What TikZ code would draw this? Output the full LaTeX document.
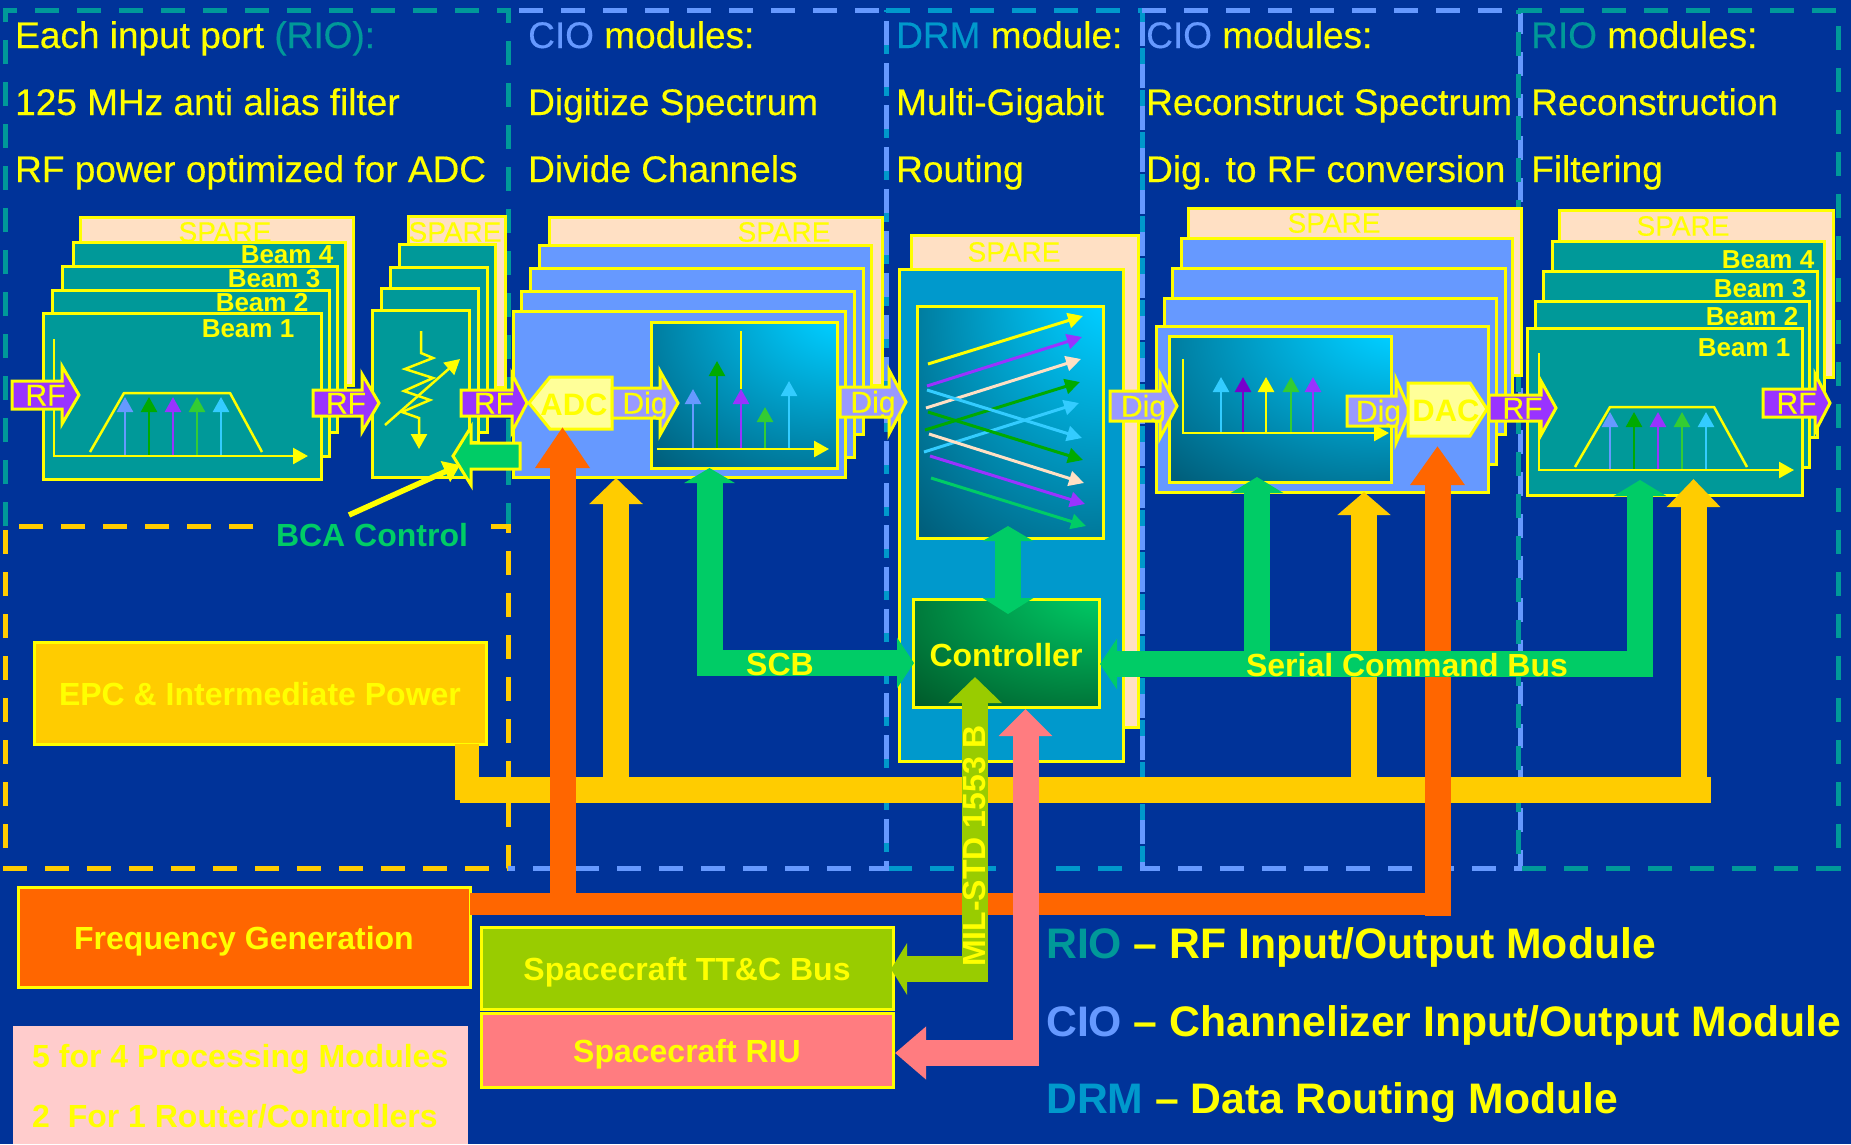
\documentclass[tikz,border=0pt]{standalone}
\usepackage{fontspec}
\setmainfont{Liberation Sans}
\newfontface\softbold[FakeBold=0.35]{Liberation Sans}
\usetikzlibrary{arrows.meta}

\definecolor{slide}{HTML}{003399}
\definecolor{rio}{HTML}{009999}
\definecolor{cio}{HTML}{6699FF}
\definecolor{drm}{HTML}{0099CC}
\definecolor{spare}{HTML}{FFE0C4}
\definecolor{hot}{HTML}{FFFF00}
\definecolor{sigpurple}{HTML}{9933FF}
\definecolor{sigblue}{HTML}{33CCFF}
\definecolor{siggreen}{HTML}{00AA00}
\definecolor{siglime}{HTML}{33CC33}
\definecolor{sigviolet}{HTML}{7700CC}
\definecolor{digfill}{HTML}{9999FF}
\definecolor{convfill}{HTML}{FFFF99}
\definecolor{busyellow}{HTML}{FFCC00}
\definecolor{busorange}{HTML}{FF6600}
\definecolor{busgreen}{HTML}{00CC66}
\definecolor{tcgreen}{HTML}{99CC00}
\definecolor{riupink}{HTML}{FF7C80}
\definecolor{notepink}{HTML}{FFCCCC}
\definecolor{glowdark}{HTML}{005F7C}
\definecolor{glowbright}{HTML}{00CCFF}
\definecolor{ctldark}{HTML}{005C2C}

\pgfdeclareradialshading{specglow}{\pgfpoint{32bp}{36bp}}{color(0bp)=(glowbright); color(10bp)=(glowbright); color(58bp)=(glowdark); color(120bp)=(glowdark)}
\pgfdeclareradialshading{ctlglow}{\pgfpoint{32bp}{36bp}}{color(0bp)=(busgreen); color(8bp)=(busgreen); color(58bp)=(ctldark); color(120bp)=(ctldark)}

\tikzset{
  box/.style={draw=hot, line width=3pt, inner sep=0pt, outer sep=0pt},
  riobox/.style={box, fill=rio},
  ciobox/.style={box, fill=cio},
  sparebox/.style={box, fill=spare},
  glowbox/.style={box, shading=specglow},
  regionline/.style={line width=5pt, dash pattern=on 24pt off 18pt},
  headtext/.style={anchor=base west, inner sep=0pt, text=hot, font=\softbold\fontsize{37}{40}\selectfont},
  sparetext/.style={inner sep=0pt, text=hot, font=\softbold\fontsize{28}{30}\selectfont},
  beamtext/.style={inner sep=0pt, text=hot, font=\fontsize{26}{30}\selectfont\bfseries},
  labeltext/.style={inner sep=0pt, text=hot, text height=25pt, text depth=0pt, font=\fontsize{32}{36}\selectfont\bfseries},
  legendtext/.style={anchor=base west, inner sep=0pt, text=hot, font=\fontsize{42.7}{50}\selectfont\bfseries},
  rfarrow/.style={draw=hot, fill=sigpurple, line width=3pt, line join=miter},
  digarrow/.style={draw=hot, fill=digfill, line width=3pt, line join=miter},
  cmdarrow/.style={draw=hot, fill=busgreen, line width=3pt, line join=miter},
  arrowtext/.style={anchor=base, inner sep=0pt, text=hot, font=\softbold\fontsize{30}{34}\selectfont},
  converter/.style={draw=hot, fill=convfill, line width=3pt, line join=miter},
  convtext/.style={inner sep=0pt, text=hot, font=\fontsize{31}{36}\selectfont\bfseries},
  thin/.style={draw=hot, line width=2.5pt},
  tick/.style={line width=2.5pt, -{Triangle[length=15pt,width=16pt]}},
  cross/.style={line width=3pt, -{Triangle[length=15pt,width=15pt]}},
  busline/.style={line width=26pt, line join=miter},
  busarrow/.style={line width=26pt, -{Triangle[length=#1,width=52pt]}}
}

\newcommand{\panel}[7]{\node (#1) [#2, anchor=north west, minimum width={(#5-#3)*1pt}, minimum height={(#6-#4)*1pt}] at (#3,#4) {#7};}
\newcommand{\flowarrow}[9]{%
  \filldraw[#2] (#3,{#6-#7}) -- (#4,{#6-#7}) -- (#4,{#6-#8}) -- (#5,#6) -- (#4,{#6+#8}) -- (#4,{#6+#7}) -- (#3,{#6+#7}) -- cycle;
  \node (#1) [arrowtext] at ({(#3+#5)/2},{#6+10.5}) {#9};}

\begin{document}
\begin{tikzpicture}[x=1pt, y=-1pt]
\fill[slide] (0,0) rectangle (1851,1144);
\useasboundingbox (0,0) rectangle (1851,1144);

\draw[regionline, draw=rio] (5,526) -- (5,10) -- (508,10) -- (508,526);
\draw[regionline, draw=busyellow] (253,526) -- (5,526) -- (5,868) -- (508,868) -- (508,526) -- (488,526);
\draw[regionline, draw=drm] (886,10) -- (1142,10) -- (1142,868) -- (886,868) -- cycle;
\draw[regionline, draw=cio] (519,10) -- (886,10) -- (886,868) -- (508,868);
\draw[regionline, draw=cio] (1142,10) -- (1520,10) -- (1520,868) -- (1142,868) -- cycle;
\draw[regionline, draw=rio] (1518,10) -- (1838,10) -- (1838,868) -- (1518,868) -- cycle;

\node (riohead) [headtext] at (15,48) {Each input port \textcolor{rio}{(RIO):}};
\node (aliashead) [headtext] at (15,115) {125 MHz anti alias filter};
\node (powerhead) [headtext] at (15,182) {RF power optimized for ADC};
\node (ciohead) [headtext] at (528,48) {\textcolor{cio}{CIO} modules:};
\node (dighead) [headtext] at (528,115) {Digitize Spectrum};
\node (divhead) [headtext] at (528,182) {Divide Channels};
\node (drmhead) [headtext] at (896,48) {\textcolor{drm}{DRM} module:};
\node (gighead) [headtext] at (896,115) {Multi-Gigabit};
\node (routehead) [headtext] at (896,182) {Routing};
\node (ciohead2) [headtext] at (1146,48) {\textcolor{cio}{CIO} modules:};
\node (rechead) [headtext] at (1146,115) {Reconstruct Spectrum};
\node (dachead) [headtext] at (1146,182) {Dig. to RF conversion};
\node (riohead2) [headtext] at (1531,48) {\textcolor{rio}{RIO} modules:};
\node (filthead) [headtext] at (1531,115) {Reconstruction};
\node (filthead2) [headtext] at (1531,182) {Filtering};

\panel{inspare}{sparebox}{80.5}{217}{353}{385}{}
\panel{inbeamd}{riobox}{73}{242}{345}{410}{}
\panel{inbeamc}{riobox}{62.5}{266}{337}{432}{}
\panel{inbeamb}{riobox}{52}{290}{329}{456}{}
\panel{inbeama}{riobox}{43}{313}{321}{479}{}
\node (insparetext) [sparetext] at (225,232) {SPARE};
\node (inbeamdtext) [beamtext] at (287,255) {Beam 4};
\node (inbeamctext) [beamtext] at (274,279) {Beam 3};
\node (inbeambtext) [beamtext] at (262,303) {Beam 2};
\node (inbeamatext) [beamtext] at (248,329) {Beam 1};
\draw[thin, line join=round] (90,452) -- (124,393) -- (230,393) -- (262,452);
\draw[tick, draw=cio] (125,456) -- (125,397);
\draw[tick, draw=siggreen] (149,456) -- (149,397);
\draw[tick, draw=sigpurple] (173,456) -- (173,397);
\draw[tick, draw=siglime] (197,456) -- (197,397);
\draw[tick, draw=sigblue] (221,456) -- (221,397);
\draw[thin, -{Triangle[length=15pt,width=16pt]}] (54,339) -- (54,456) -- (308,456);

\panel{bcaspare}{sparebox}{408}{216}{505}{387}{}
\panel{bcad}{riobox}{399}{244}{495}{400}{}
\panel{bcac}{riobox}{390}{267}{487}{432}{}
\panel{bcab}{riobox}{381}{288}{478}{442}{}
\panel{bcaa}{riobox}{372}{310}{469}{477}{}
\node (bcasparetext) [sparetext] at (455,232) {SPARE};
\draw[thin, line join=miter, -{Triangle[length=15pt,width=16pt]}] (421,331) -- (421,353) -- (433,358) -- (405,369) -- (433,378) -- (404,391) -- (430,400) -- (402,412) -- (419,418) -- (419,449);
\draw[thin, -{Triangle[length=15pt,width=16pt]}] (385,425) -- (460,359);

\panel{ciospare}{sparebox}{549}{217}{882}{385}{}
\panel{ciod}{ciobox}{539}{245}{871}{410}{}
\panel{cioc}{ciobox}{530}{268}{863}{434}{}
\panel{ciob}{ciobox}{521}{291}{854}{457}{}
\panel{cioa}{ciobox}{513}{311}{845}{477}{}
\node (ciosparetext) [sparetext] at (784,232) {SPARE};
\panel{adcspec}{glowbox}{651}{322}{837}{468}{}
\draw[thin] (741,331) -- (741,389);
\draw[tick, draw=cio] (693,449) -- (693,389);
\draw[tick, draw=siggreen] (717,449) -- (717,361);
\draw[tick, draw=sigpurple] (741,449) -- (741,389);
\draw[tick, draw=siglime] (765,449) -- (765,407);
\draw[tick, draw=sigblue] (789,449) -- (789,381);
\draw[thin, -{Triangle[length=15pt,width=16pt]}] (657,449) -- (829,449);

\panel{drmspare}{sparebox}{911}{235}{1138}{727}{}
\panel{drmbox}{box, fill=drm}{899}{269}{1123}{761}{}
\node (drmsparetext) [sparetext] at (1014,252) {SPARE};
\panel{router}{glowbox}{917.5}{306}{1103}{538}{}
\draw[cross, draw=hot] (928,364) -- (1083,316);
\draw[cross, draw=sigpurple] (927,386) -- (1082,337);
\draw[cross, draw=spare] (926,408) -- (1081,359);
\draw[cross, draw=siggreen] (925,430) -- (1080,382);
\draw[cross, draw=sigblue] (924,452) -- (1079,403);
\draw[cross, draw=sigblue] (927,390) -- (1082,438);
\draw[cross, draw=siggreen] (928,412) -- (1083,460);
\draw[cross, draw=spare] (929,434) -- (1084,483);
\draw[cross, draw=sigpurple] (930,456) -- (1085,504);
\draw[cross, draw=busgreen] (931,478) -- (1086,526);
\panel{controller}{box, shading=ctlglow, labeltext, text height=27pt}{913}{599}{1099}{707}{Controller}

\panel{dacspare}{sparebox}{1188}{208}{1521}{375}{}
\panel{dacd}{ciobox}{1181}{238}{1512}{405}{}
\panel{dacc}{ciobox}{1172}{268}{1505}{434}{}
\panel{dacb}{ciobox}{1164}{298}{1496}{464}{}
\panel{daca}{ciobox}{1156}{326}{1488}{492}{}
\node (dacsparetext) [sparetext] at (1334,223) {SPARE};
\panel{dacspec}{glowbox}{1169}{336}{1391}{482}{}
\draw[tick, draw=sigblue] (1221,433) -- (1221,377);
\draw[tick, draw=sigviolet] (1243,433) -- (1243,377);
\draw[tick, draw=hot] (1266,433) -- (1266,377);
\draw[tick, draw=siglime] (1291,433) -- (1291,377);
\draw[tick, draw=sigpurple] (1313,433) -- (1313,377);
\draw[thin, -{Triangle[length=15pt,width=16pt]}] (1183,359) -- (1183,433) -- (1389,433);

\panel{outspare}{sparebox}{1559}{210}{1833}{377}{}
\panel{outbeamd}{riobox}{1552}{241}{1824}{410}{}
\panel{outbeamc}{riobox}{1543}{271}{1817}{437}{}
\panel{outbeamb}{riobox}{1535}{301}{1809}{467}{}
\panel{outbeama}{riobox}{1527}{328}{1802}{495}{}
\node (outsparetext) [sparetext] at (1683,226) {SPARE};
\node (outbeamdtext) [beamtext] at (1768,260) {Beam 4};
\node (outbeamctext) [beamtext] at (1760,289) {Beam 3};
\node (outbeambtext) [beamtext] at (1752,317) {Beam 2};
\node (outbeamatext) [beamtext] at (1744,348) {Beam 1};
\draw[thin, line join=round] (1575,467) -- (1610,407) -- (1714,407) -- (1747,467);
\draw[tick, draw=cio] (1610,470) -- (1610,412);
\draw[tick, draw=siggreen] (1634,470) -- (1634,412);
\draw[tick, draw=sigpurple] (1658,470) -- (1658,412);
\draw[tick, draw=siglime] (1682,470) -- (1682,412);
\draw[tick, draw=sigblue] (1706,470) -- (1706,412);
\draw[thin, -{Triangle[length=15pt,width=16pt]}] (1539,353) -- (1539,470) -- (1794,470);

\flowarrow{rfin}{rfarrow}{12}{62}{79}{395}{14}{29}{RF}
\flowarrow{rfmid}{rfarrow}{313}{362}{379}{403}{13}{29}{RF}
\flowarrow{bcain}{cmdarrow}{520}{471}{453}{456}{13}{29}{}
\filldraw[converter] (529,403) -- (550,377) -- (612,377) -- (612,429) -- (550,429) -- cycle;
\node (adc) [convtext] at (574,405) {ADC};
\flowarrow{rfadc}{rfarrow}{461}{512}{527}{403}{13}{29}{RF}
\flowarrow{digadc}{digarrow}{612}{660}{678}{403}{15}{32}{Dig}
\flowarrow{digout}{digarrow}{840}{889}{906}{402}{15}{32}{Dig}
\flowarrow{digin}{digarrow}{1110}{1160}{1177}{406}{15}{32}{Dig}
\flowarrow{digdac}{digarrow}{1347}{1396}{1410}{411}{15}{32}{Dig}
\filldraw[converter] (1408,383) -- (1470,383) -- (1487,409) -- (1470,436) -- (1408,436) -- cycle;
\node (dac) [convtext] at (1446,411) {DAC};
\flowarrow{rfdac}{rfarrow}{1489}{1541}{1556}{408}{13}{27}{RF}
\flowarrow{rfout}{rfarrow}{1763}{1815}{1830}{403}{14}{29}{RF}

\coordinate (bcafrom) at (349,515);
\coordinate (bcato) at (460,465);
\draw[line width=5.5pt, draw=hot, -{Triangle[length=16pt,width=22pt]}] (bcafrom) -- (bcato);
\node (bcatext) [labeltext, text=busgreen] at (372,534) {BCA Control};

\panel{epc}{box, fill=busyellow, labeltext}{34}{642}{486}{744}{EPC \& Intermediate Power}
\panel{freq}{box, fill=busorange, labeltext}{18}{887}{470}{987}{Frequency Generation}
\panel{ttc}{box, fill=tcgreen, labeltext}{481}{927}{893}{1009}{Spacecraft TT\&C Bus}
\panel{riu}{box, fill=riupink, labeltext}{481}{1013}{893}{1087}{Spacecraft RIU}
\fill[notepink] (13,1026) rectangle (468,1144);
\node (notea) [labeltext, anchor=west] at (32,1055) {5 for 4 Processing Modules};
\node (noteb) [labeltext, anchor=west] at (32,1115) {2\ \ For 1 Router/Controllers};

\coordinate (epcdrop) at (467,744);
\coordinate (pwrstart) at (460,790);
\coordinate (pwrend) at (1711,790);
\coordinate (pwrtap) at (616,790);
\coordinate (pwrtapb) at (1364,790);
\coordinate (pwrtapc) at (1693.5,790);
\coordinate (pwradc) at (616,478);
\coordinate (pwrdac) at (1364,492);
\coordinate (pwrrio) at (1693.5,479);
\draw[line width=24pt, draw=busyellow] (epcdrop) -- (467,800);
\draw[busline, draw=busyellow] (pwrstart) -- (pwrend);
\draw[busarrow=26pt, draw=busyellow] (pwrtap) -- (pwradc);
\draw[busarrow=23pt, draw=busyellow] (pwrtapb) -- (pwrdac);
\draw[busarrow=28pt, draw=busyellow] (pwrtapc) -- (pwrrio);

\coordinate (fgtap) at (562.5,904);
\coordinate (fgadc) at (562.5,427);
\coordinate (fgend) at (1437.5,916);
\coordinate (fgdac) at (1437.5,446);
\draw[line width=22pt, draw=busorange] (freq.east |- fgtap) -- (fgend |- fgtap);
\draw[busarrow=41pt, draw=busorange] (fgtap) -- (fgadc);
\draw[busarrow=39pt, draw=busorange] (fgend) -- (fgdac);

\coordinate (scbadc) at (709.5,468);
\coordinate (ctlwest) at (914,663);
\coordinate (ctleast) at (1100,664);
\coordinate (cmdend) at (1653,664);
\coordinate (cmdtapa) at (1257,664);
\coordinate (cmdtapb) at (1640,664);
\coordinate (cmddac) at (1257,477);
\coordinate (cmdrio) at (1640,480);
\draw[busline, draw=busgreen, {Triangle[length=15pt,width=50pt]}-{Triangle[length=17pt,width=50pt]}] (scbadc) -- (709.5,663) -- (ctlwest);
\draw[busline, draw=busgreen, -{Triangle[length=17pt,width=50pt]}] (cmdend) -- (ctleast);
\draw[busarrow=16pt, draw=busgreen] (cmdtapa) -- (cmddac);
\draw[busarrow=16pt, draw=busgreen] (cmdtapb) -- (cmdrio);
\coordinate (ctlup) at (1008,526);
\coordinate (ctldown) at (1008,614);
\draw[line width=26pt, draw=busgreen, {Triangle[length=15pt,width=50pt]}-{Triangle[length=16pt,width=50pt]}] (ctlup) -- (ctldown);
\node (scbtext) [labeltext] at (780,663) {SCB};
\node (cmdtext) [labeltext] at (1407,664) {Serial Command Bus};

\coordinate (ttctip) at (891,969);
\coordinate (miltip) at (975,677);
\draw[busline, draw=tcgreen, {Triangle[length=16pt,width=51pt]}-{Triangle[length=26pt,width=52pt]}] (ttctip) -- (975,969) -- (miltip);
\node (miltext) [labeltext, rotate=90] at (973,846) {MIL-STD 1553 B};

\coordinate (riutip) at (895,1053);
\coordinate (rioup) at (1025.5,709);
\draw[busline, draw=riupink, {Triangle[length=31pt,width=51pt]}-{Triangle[length=27pt,width=52pt]}] (riutip) -- (1025.5,1053) -- (rioup);

\node (legendrio) [legendtext] at (1046,958) {\textcolor{rio}{RIO} -- RF Input/Output Module};
\node (legendcio) [legendtext] at (1046,1036) {\textcolor{cio}{CIO} -- Channelizer Input/Output Module};
\node (legenddrm) [legendtext] at (1046,1113) {\textcolor{drm}{DRM} -- Data Routing Module};
\end{tikzpicture}
\end{document}
